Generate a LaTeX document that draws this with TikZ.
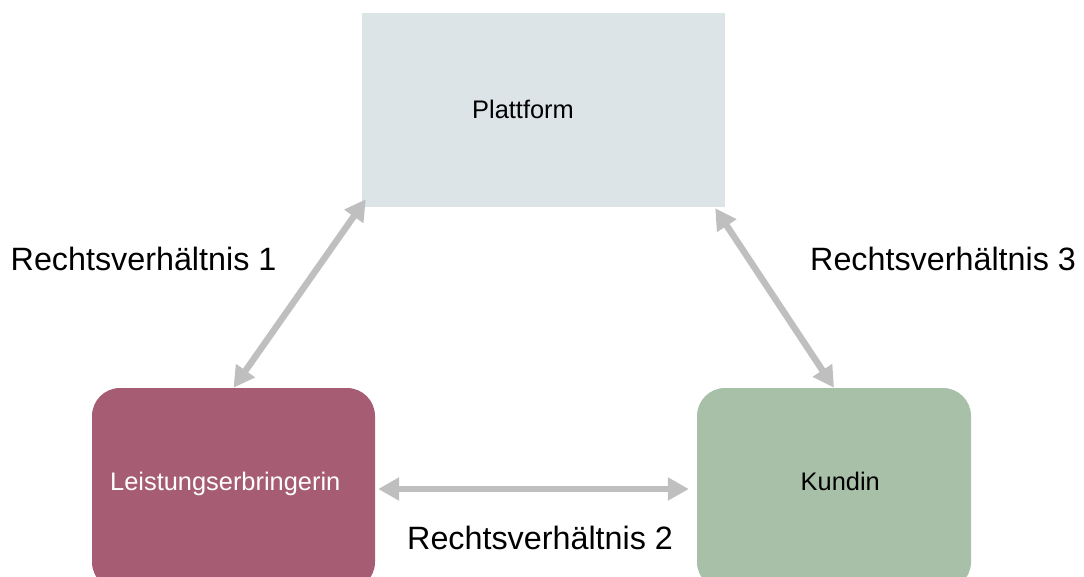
\documentclass[tikz,border=0pt]{standalone}
\usepackage{fontspec}
\setmainfont{Liberation Sans}
\usetikzlibrary{arrows.meta,calc}

\definecolor{platfill}{HTML}{DDE4E8}
\definecolor{leisfill}{HTML}{A65C72}
\definecolor{kundfill}{HTML}{A8C0A8}
\definecolor{relgray}{HTML}{BFBFBF}

\tikzset{
  partybox/.style={draw=none, inner sep=0, rounded corners=28pt,
    minimum width=#1, minimum height=202pt},
  boxtext/.style={anchor=base west, inner sep=0, font=\fontsize{25.4}{30}\selectfont},
  reltext/.style={anchor=base west, inner sep=0, font=\fontsize{32.3}{36}\selectfont},
  relation/.style={draw=relgray, line width=6.5pt,
    {Triangle[length=21pt,width=22pt]}-{Triangle[length=21pt,width=22pt]}}
}

\begin{document}
\begin{tikzpicture}[x=1pt,y=-1pt]
  \useasboundingbox (0,0) rectangle (1084,576);

  % the three parties
  \node[fill=platfill, inner sep=0, minimum width=363pt, minimum height=194pt]
    (plat) at (543.5,110) {};
  \node[partybox=283pt, fill=leisfill] (leis) at (233.5,489) {};
  \node[partybox=274pt, fill=kundfill] (kund) at (834,489) {};

  % their names
  \node[boxtext] (platname) at (472,118) {Plattform};
  \node[boxtext, text=white] (leisname) at (110,490) {Leistungserbringerin};
  \node[boxtext] (kundname) at (800.5,490.5) {Kundin};

  % legal relationships
  \draw[relation] (leis.north) -- ($(plat.south west)+(4,-8)$);
  \draw[relation] ($(leis.east)+(3,0)$) -- ($(kund.west)+(-8,0)$);
  \draw[relation] ($(plat.south east)+(-10,1)$) -- (kund.north);

  \node[reltext] (rel1) at (10.5,270.7) {Rechtsverhältnis 1};
  \node[reltext] (rel2) at (407,549.3) {Rechtsverhältnis 2};
  \node[reltext] (rel3) at (810,270.7) {Rechtsverhältnis 3};
\end{tikzpicture}
\end{document}
